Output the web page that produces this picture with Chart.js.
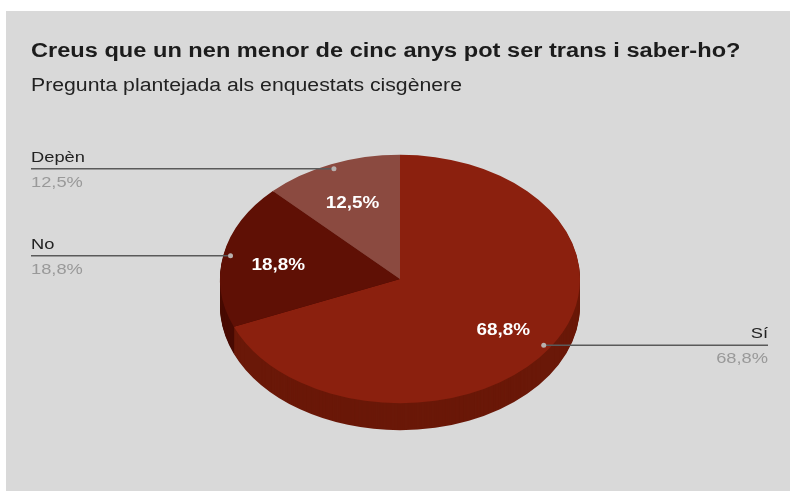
<!DOCTYPE html>
<html>
<head>
<meta charset="utf-8">
<script src="https://cdn.jsdelivr.net/npm/chart.js@4/dist/chart.umd.min.js"></script>
<style>
    body { margin: 0; background: #ffffff; }
    #panel { position: absolute; left: 6px; top: 11px; width: 784px; height: 480px; background: #d9d9d9; }
    #chart { position: absolute; left: 0; top: 0; }
</style>
</head>
<body>
<div id="panel"></div>
<canvas id="chart" width="790" height="491"></canvas>
<script>
    // Data
    const titleText = 'Creus que un nen menor de cinc anys pot ser trans i saber-ho?';
    const subtitleText = 'Pregunta plantejada als enquestats cisgènere';
    const answers = ['Sí', 'No', 'Depèn'];
    const percents = [68.8, 18.8, 12.5];
    const topColors = ['#8b200e', '#5f1005', '#8b4a40'];
    const sideColors = ['#6a1808', '#480b03', '#6b3830'];

    // 3D look: vertical squash of the pie and thickness of its side (px)
    const TILT = 0.69;
    const DEPTH = 27;
    const STRETCH = 1.18; // text in the picture is a bit wide

    const fmt = (v) => v.toFixed(1).replace('.', ',') + '%';

    const drawText = (ctx, text, x, y, align, font, color) => {
        ctx.save();
        ctx.translate(x, y);
        ctx.scale(STRETCH, 1);
        ctx.font = font;
        ctx.fillStyle = color;
        ctx.textAlign = align;
        ctx.textBaseline = 'alphabetic';
        ctx.fillText(text, 0, 0);
        ctx.restore();
    };

    const tilt = (ctx, cx, cy, dy) => {
        ctx.translate(cx, cy + dy);
        ctx.scale(1, TILT);
        ctx.translate(-cx, -cy);
    };

    const pie3d = {
        id: 'pie3d',
        beforeDatasetsDraw(chart) {
            const ctx = chart.ctx;
            const arcs = chart.getDatasetMeta(0).data;
            const { x: cx, y: cy } = arcs[0];

            // side of the pie, stacked copies of the slices pushed down
            for (let s = DEPTH; s >= 1; s--) {
                ctx.save();
                tilt(ctx, cx, cy, s);
                arcs.forEach((arc, i) => {
                    const p = arc.getProps(['x', 'y', 'startAngle', 'endAngle', 'outerRadius']);
                    ctx.beginPath();
                    ctx.moveTo(p.x, p.y);
                    ctx.arc(p.x, p.y, p.outerRadius, p.startAngle, p.endAngle);
                    ctx.closePath();
                    ctx.fillStyle = sideColors[i];
                    ctx.fill();
                });
                ctx.restore();
            }

            // top face is the normal Chart.js draw, squashed
            ctx.save();
            tilt(ctx, cx, cy, 0);
        },
        afterDatasetsDraw(chart) {
            const ctx = chart.ctx;
            ctx.restore();

            const arcs = chart.getDatasetMeta(0).data;
            const { left, right } = chart.chartArea;

            arcs.forEach((arc, i) => {
                const p = arc.getProps(['x', 'y', 'startAngle', 'endAngle', 'outerRadius']);
                const mid = (p.startAngle + p.endAngle) / 2;
                const cos = Math.cos(mid), sin = Math.sin(mid);

                // value inside the slice
                const ix = p.x + cos * p.outerRadius * 0.69;
                const iy = p.y + sin * p.outerRadius * 0.69 * TILT + 8;
                drawText(ctx, fmt(percents[i]), ix, iy, 'center', 'bold 16px "Liberation Sans", Arial', '#ffffff');

                // callout
                const dx = p.x + cos * p.outerRadius * 0.96;
                const dy = p.y + sin * p.outerRadius * 0.96 * TILT;
                const onLeft = cos < 0;
                const lx = onLeft ? left : right - 1;

                ctx.save();
                ctx.strokeStyle = '#5a5a5a';
                ctx.lineWidth = 1.5;
                ctx.beginPath();
                ctx.moveTo(lx, dy);
                ctx.lineTo(dx, dy);
                ctx.stroke();
                ctx.fillStyle = '#b8b0ae';
                ctx.beginPath();
                ctx.arc(dx, dy, 2.5, 0, Math.PI * 2);
                ctx.fill();
                ctx.restore();

                const align = onLeft ? 'left' : 'right';
                drawText(ctx, answers[i], lx, dy - 7, align, '15.5px "Liberation Sans", Arial', '#222222');
                drawText(ctx, fmt(percents[i]), lx, dy + 18, align, '15.5px "Liberation Sans", Arial', '#999999');
            });

            // titles
            drawText(ctx, titleText, left, 57, 'left', 'bold 20px "Liberation Sans", Arial', '#1c1c1c');
            drawText(ctx, subtitleText, left, 91, 'left', '18px "Liberation Sans", Arial', '#222222');
        }
    };

    new Chart(document.getElementById('chart'), {
        type: 'pie',
        data: {
            labels: answers,
            datasets: [{
                data: percents,
                backgroundColor: topColors,
                borderWidth: 0,
                hoverOffset: 0
            }]
        },
        options: {
            responsive: false,
            animation: false,
            events: [],
            layout: { padding: { left: 31, right: 21, top: 99, bottom: 32 } },
            plugins: {
                legend: { display: false },
                tooltip: { enabled: false },
                title: { display: false }
            }
        },
        plugins: [pie3d]
    });
</script>
</body>
</html>
